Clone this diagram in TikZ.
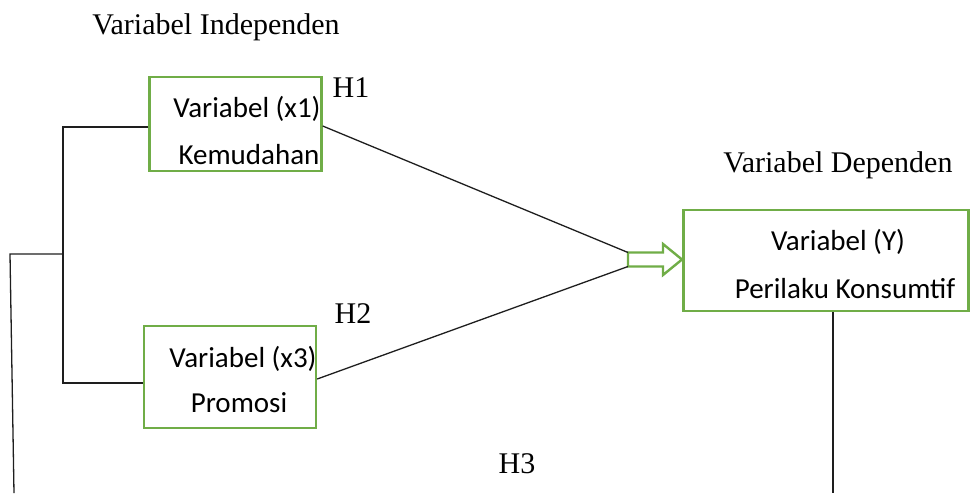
\documentclass[tikz,border=0pt]{standalone}
\usepackage{fontspec}
\setmainfont{Liberation Serif}
\newfontfamily\boxfont{Carlito}
\definecolor{boxgreen}{RGB}{112,173,71}
\definecolor{linegray}{RGB}{30,30,30}
\begin{document}
\begin{tikzpicture}[x=1pt,y=-1pt,
  varbox/.style={draw=boxgreen,line width=2.4pt,fill=white,inner sep=0pt},
  boxtext/.style={font=\boxfont\fontsize{29}{34}\selectfont,anchor=base,inner sep=0pt},
  heading/.style={font=\fontsize{30}{36}\selectfont,anchor=base,inner sep=0pt},
  link/.style={draw=linegray,line width=1.3pt}]
\useasboundingbox (0,0) rectangle (973,493);

% variable boxes
\node[varbox,minimum width=172pt,minimum height=94pt] (x1) at (235.5,124) {};
\node[varbox,minimum width=172pt,minimum height=102pt] (x3) at (230,377) {};
\node[varbox,minimum width=285pt,minimum height=101pt] (y) at (826,260.5) {};

\node[boxtext] (x1a) at (247,117) {Variabel (x1)};
\node[boxtext] (x1b) at (249,164) {Kemudahan};
\node[boxtext] (x3a) at (243,367) {Variabel (x3)};
\node[boxtext] (x3b) at (239,412) {Promosi};
\node[boxtext] (ya) at (838,250) {Variabel (Y)};
\node[boxtext] (yb) at (845,298) {Perilaku Konsumtif};

% headings and hypothesis labels
\node[heading] (indep) at (216,34) {Variabel Independen};
\node[heading] (dep) at (838,172) {Variabel Dependen};
\node[heading] (h1) at (351,97) {H1};
\node[heading] (h2) at (353,323) {H2};
\node[heading] (h3) at (517,473) {H3};

% block arrow into the dependent variable
\coordinate (atop) at (628,252.5);
\coordinate (abot) at (628,266.5);
\draw[draw=boxgreen,line width=2.4pt,fill=white,line join=miter]
  (atop) -- (663,252.5) -- (663,244) -- (682,259.5) -- (663,275) -- (663,266.5)
  -- (abot) -- cycle;

% hypothesis connectors
\draw[link] (x1.east |- 0,126) -- (atop);
\draw[link] (x3.east |- 0,379) -- (abot);

% bracket joining the independent variables
\coordinate (bt) at (63,127);
\coordinate (bb) at (63,383);
\coordinate (bm) at (63,254);
\coordinate (ll) at (10,254);
\coordinate (lb) at (14,493);
\draw[link] (x1.west |- bt) -- (bt) -- (bb) -- (x3.west |- bb);
\draw[link] (bm) -- (ll) -- (lb);

% line down from the dependent variable
\coordinate (yd) at (833,493);
\draw[link] (y.south -| yd) -- (yd);
\end{tikzpicture}
\end{document}
